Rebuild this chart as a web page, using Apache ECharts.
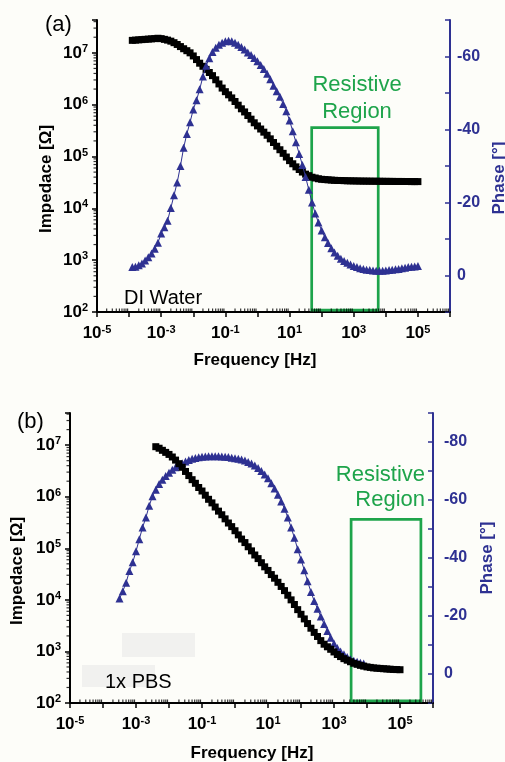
<!DOCTYPE html>
<html><head><meta charset="utf-8">
<script src="https://cdn.jsdelivr.net/npm/echarts@6/dist/echarts.min.js"></script>
<style>html,body{margin:0;padding:0;background:#fdfdf9}#c{width:505px;height:762px}</style>
</head><body><div id="c"></div>
<script>
// ---------- DATA ----------
// Panel (a) DI Water: frequency [Hz], |Z| [ohm], phase [deg]
const freqA = [1.26e-4,1.58e-4,2e-4,2.51e-4,3.16e-4,3.98e-4,5.01e-4,6.31e-4,7.94e-4,
 1e-3,1.26e-3,1.58e-3,2e-3,2.51e-3,3.16e-3,3.98e-3,5.01e-3,6.31e-3,7.94e-3,
 1e-2,1.26e-2,1.58e-2,2e-2,2.51e-2,3.16e-2,3.98e-2,5.01e-2,6.31e-2,7.94e-2,
 1e-1,1.26e-1,1.58e-1,2e-1,2.51e-1,3.16e-1,3.98e-1,5.01e-1,6.31e-1,7.94e-1,
 1,1.26,1.58,2,2.51,3.16,3.98,5.01,6.31,7.94,
 10,12.6,15.8,20,25.1,31.6,39.8,50.1,63.1,79.4,
 100,126,158,200,251,316,398,501,631,794,
 1e3,1.26e3,1.58e3,2e3,2.51e3,3.16e3,3.98e3,5.01e3,6.31e3,7.94e3,
 1e4,1.26e4,1.58e4,2e4,2.51e4,3.16e4,3.98e4,5.01e4,6.31e4,7.94e4,
 1e5];
const impA = [1.74e7,1.76e7,1.78e7,1.80e7,1.82e7,1.84e7,1.86e7,1.88e7,1.91e7,
 1.88e7,1.82e7,1.76e7,1.68e7,1.57e7,1.45e7,1.32e7,1.20e7,1.10e7,1.0e7,
 8.71e6,7.41e6,6.31e6,5.50e6,4.79e6,4.17e6,3.63e6,3.02e6,2.51e6,2.09e6,
 1.78e6,1.55e6,1.35e6,1.15e6,9.77e5,8.32e5,7.24e5,6.17e5,5.25e5,4.47e5,
 3.89e5,3.39e5,2.95e5,2.57e5,2.19e5,1.86e5,1.58e5,1.35e5,1.15e5,9.77e4,
 8.32e4,7.24e4,6.31e4,5.62e4,5.01e4,4.57e4,4.27e4,3.98e4,3.85e4,3.72e4,
 3.63e4,3.59e4,3.55e4,3.51e4,3.47e4,3.45e4,3.44e4,3.42e4,3.40e4,3.39e4,
 3.38e4,3.37e4,3.36e4,3.35e4,3.35e4,3.34e4,3.34e4,3.33e4,3.33e4,3.32e4,
 3.32e4,3.31e4,3.31e4,3.30e4,3.30e4,3.30e4,3.29e4,3.29e4,3.28e4,3.28e4,
 3.28e4];
const phaseA = [-2.3,-2.4,-2.8,-3.3,-4.1,-5.0,-6.0,-7.3,-9.0,
 -11.5,-13.2,-15.0,-18.5,-22.0,-25.5,-30.0,-35.0,-38.8,-42.0,
 -45.5,-48.0,-51.0,-54.5,-57.5,-59.5,-61.2,-62.4,-63.2,-63.8,
 -64.2,-64.3,-64.2,-63.8,-63.2,-62.6,-61.9,-61.1,-60.4,-59.6,
 -58.7,-57.7,-56.6,-55.3,-53.8,-52.0,-50.5,-49.0,-47.0,-45.0,
 -42.5,-39.5,-36.5,-33.3,-30.3,-27.0,-23.5,-20.0,-17.0,-14.5,
 -12.3,-10.5,-8.9,-7.5,-6.3,-5.4,-4.6,-4.0,-3.5,-3.0,
 -2.6,-2.3,-2.0,-1.8,-1.6,-1.5,-1.4,-1.3,-1.3,-1.3,
 -1.4,-1.5,-1.6,-1.7,-1.8,-2.0,-2.1,-2.3,-2.4,-2.5,
 -2.6];

// Panel (b) 1x PBS
const freqBImp = [3.98e-3,5.01e-3,6.31e-3,7.94e-3,
 1e-2,1.26e-2,1.58e-2,2e-2,2.51e-2,3.16e-2,3.98e-2,5.01e-2,6.31e-2,7.94e-2,
 1e-1,1.26e-1,1.58e-1,2e-1,2.51e-1,3.16e-1,3.98e-1,5.01e-1,6.31e-1,7.94e-1,
 1,1.26,1.58,2,2.51,3.16,3.98,5.01,6.31,7.94,
 10,12.6,15.8,20,25.1,31.6,39.8,50.1,63.1,79.4,
 100,126,158,200,251,316,398,501,631,794,
 1e3,1.26e3,1.58e3,2e3,2.51e3,3.16e3,3.98e3,5.01e3,6.31e3,7.94e3,
 1e4,1.26e4,1.58e4,2e4,2.51e4,3.16e4,3.98e4,5.01e4,6.31e4,7.94e4,
 1e5];
const impB = [9.33e6,8.71e6,7.94e6,7.24e6,
 6.61e6,5.89e6,5.13e6,4.37e6,3.72e6,3.09e6,2.57e6,2.14e6,1.82e6,1.51e6,
 1.29e6,1.07e6,8.91e5,7.59e5,6.31e5,5.25e5,4.47e5,3.72e5,3.09e5,2.63e5,
 2.19e5,1.82e5,1.51e5,1.29e5,1.07e5,8.91e4,7.41e4,6.31e4,5.25e4,4.37e4,
 3.72e4,3.09e4,2.63e4,2.19e4,1.82e4,1.51e4,1.23e4,1.0e4,8.13e3,6.46e3,
 5.25e3,4.27e3,3.47e3,2.82e3,2.34e3,1.95e3,1.62e3,1.38e3,1.23e3,1.10e3,
 977,871,794,724,676,631,589,562,537,519,
 501,490,479,473,468,462,457,452,447,445,
 442];
const freqBPh = [3.16e-4,3.98e-4,5.01e-4,6.31e-4,7.94e-4,
 1e-3,1.26e-3,1.58e-3,2e-3,2.51e-3,3.16e-3,3.98e-3,5.01e-3,6.31e-3,7.94e-3,
 1e-2,1.26e-2,1.58e-2,2e-2,2.51e-2,3.16e-2,3.98e-2,5.01e-2,6.31e-2,7.94e-2,
 1e-1,1.26e-1,1.58e-1,2e-1,2.51e-1,3.16e-1,3.98e-1,5.01e-1,6.31e-1,7.94e-1,
 1,1.26,1.58,2,2.51,3.16,3.98,5.01,6.31,7.94,
 10,12.6,15.8,20,25.1,31.6,39.8,50.1,63.1,79.4,
 100,126,158,200,251,316,398,501,631,794,
 1e3,1.26e3,1.58e3,2e3,2.51e3,3.16e3,3.98e3,5.01e3,6.31e3,7.94e3];
const phaseB = [-26,-28.5,-31.5,-35.5,-38.5,
 -42.3,-46.5,-50.5,-54,-58,-61.3,-63.5,-65.5,-67,-68.3,
 -69.4,-70.4,-71.3,-72.0,-72.7,-73.3,-73.8,-74.2,-74.5,-74.7,
 -74.9,-75.0,-75.1,-75.1,-75.1,-75.1,-75.0,-74.9,-74.8,-74.6,
 -74.4,-74.2,-74.0,-73.6,-73.1,-72.6,-71.9,-71.0,-70.0,-68.8,
 -67.5,-65.8,-64.0,-61.8,-59.5,-57,-54,-50.5,-47,-43,
 -39.5,-35.8,-32,-28.3,-25.2,-22.5,-19.8,-17.2,-14.8,-12.5,
 -10.5,-9.0,-7.8,-6.8,-5.9,-5.1,-4.6,-4.2,-3.9,-3.6];

// Resistive region boxes: [fLow, fHigh, phaseTop, phaseBottom]
const boxA = [49, 5800, -40.5, 9.5];
const boxB = [3300, 4.3e5, -53.3, 9.3];

// Axis ranges
const freqRange = [1e-5, 1e6];
const impRangeA = [100, 4.3e7];
const impRangeB = [100, 4.2e7];
const phaseRangeA = [-70, 10];
const phaseRangeB = [-90, 10];
const minorMant = [2,3,4,5,6,7,8,9];

// ---------- STYLE ----------
const FONT = "'Liberation Sans', Arial, Helvetica, sans-serif";
const BLUE = '#2e3192';
const GREEN = '#1ea44b';

function logLabel(isX) {
  return function (v) {
    const e = Math.log10(v), r = Math.round(e);
    if (Math.abs(e - r) > 1e-6) return '';
    if (isX && r % 2 === 0) return '';
    return '{b|10}{s|' + r + '}';
  };
}
const rich = {
  b: {fontSize: 17, fontWeight: 'bold', fontFamily: FONT, color: '#000', lineHeight: 19},
  s: {fontSize: 11, fontWeight: 'bold', fontFamily: FONT, color: '#000', verticalAlign: 'top', lineHeight: 10}
};

function minorTicksX(range, yBase) {
  const out = [];
  for (let k = Math.round(Math.log10(range[0])); k < Math.round(Math.log10(range[1])); k++)
    minorMant.forEach(m => out.push([m * Math.pow(10, k), yBase]));
  return out;
}
function minorTicksY(range, xBase) {
  const out = [];
  for (let k = Math.round(Math.log10(range[0])); k <= 8; k++)
    minorMant.forEach(m => { const v = m * Math.pow(10, k); if (v < range[1]) out.push([xBase, v]); });
  return out;
}

function makeXAxis(gi) {
  return {
    type: 'log', logBase: 10, gridIndex: gi, min: freqRange[0], max: freqRange[1], interval: 1,
    axisLine: {show: true, onZero: false, lineStyle: {color: '#000', width: 2}},
    axisTick: {show: true, inside: false, length: 5, lineStyle: {color: '#000', width: 1.5}},
    axisLabel: {formatter: logLabel(true), rich: rich, margin: 12},
    splitLine: {show: false}, minorTick: {show: false}
  };
}
function makeImpAxis(gi, range) {
  return {
    type: 'log', logBase: 10, gridIndex: gi, position: 'left', min: range[0], max: range[1], interval: 1,
    axisLine: {show: true, onZero: false, lineStyle: {color: '#000', width: 2}},
    axisTick: {show: true, inside: false, length: 5, lineStyle: {color: '#000', width: 1.5}},
    axisLabel: {formatter: logLabel(false), rich: rich, margin: 9},
    splitLine: {show: false}
  };
}
function makePhaseAxis(gi, range, margin) {
  return {
    type: 'value', gridIndex: gi, position: 'right', inverse: true, min: range[0], max: range[1], interval: 10,
    axisLine: {show: true, onZero: false, lineStyle: {color: BLUE, width: 2}},
    axisTick: {show: true, inside: true, length: 5, lineStyle: {color: BLUE, width: 1.5}},
    axisLabel: {formatter: v => (v % 20 === 0 ? String(v) : ''), color: BLUE, fontSize: 16, fontWeight: 'bold', fontFamily: FONT, margin: margin},
    splitLine: {show: false}
  };
}

function pairs(xs, ys) { return xs.map((x, i) => [x, ys[i]]); }

function impSeries(xi, yi, xs, ys, z) {
  return {type: 'line', xAxisIndex: xi, yAxisIndex: yi, data: pairs(xs, ys), symbol: 'rect', symbolSize: 7,
    showAllSymbol: true, itemStyle: {color: '#000'}, lineStyle: {color: '#000', width: 1.5}, z: z, silent: true};
}
function phaseSeries(xi, yi, xs, ys, box, z) {
  return {type: 'line', xAxisIndex: xi, yAxisIndex: yi, data: pairs(xs, ys), symbol: 'triangle', symbolSize: 8,
    showAllSymbol: true, itemStyle: {color: BLUE}, lineStyle: {color: BLUE, width: 1}, z: z, silent: true,
    markArea: {silent: true, itemStyle: {color: 'rgba(0,0,0,0)', borderColor: GREEN, borderWidth: 2.7},
      label: {show: false},
      data: [[{coord: [box[0], box[2]]}, {coord: [box[1], box[3]]}]]}};
}
// minor log ticks drawn as tiny bar-shaped scatter symbols placed by the axes' own scales
function minorXSeries(xi, yi, data) {
  return {type: 'scatter', xAxisIndex: xi, yAxisIndex: yi, data: data, clip: false, silent: true, z: 5,
    symbol: 'rect', symbolSize: [1.2, 3.5], symbolOffset: [0, -1.75], itemStyle: {color: '#000'}};
}
function minorYSeries(xi, yi, data) {
  return {type: 'scatter', xAxisIndex: xi, yAxisIndex: yi, data: data, clip: false, silent: true, z: 5,
    symbol: 'rect', symbolSize: [3.5, 1.2], symbolOffset: [-1.75, 0], itemStyle: {color: '#000'}};
}

function txt(text, x, y, opt) {
  return Object.assign({type: 'text', x: x, y: y, z: 100, silent: true,
    style: Object.assign({text: text, fontFamily: FONT, fontSize: 17, fontWeight: 'bold', fill: '#000',
      align: 'center', verticalAlign: 'middle'}, opt.style || {})}, opt.el || {});
}

const chart = echarts.init(document.getElementById('c'), null, {renderer: 'canvas'});
chart.setOption({
  backgroundColor: '#fdfdf9',
  animation: false,
  grid: [
    {left: 97, right: 55, top: 20, bottom: 450},
    {left: 70, right: 72, top: 413, bottom: 59}
  ],
  xAxis: [makeXAxis(0), makeXAxis(1)],
  yAxis: [makeImpAxis(0, impRangeA), makePhaseAxis(0, phaseRangeA, 7),
          makeImpAxis(1, impRangeB), makePhaseAxis(1, phaseRangeB, 11)],
  series: [
    impSeries(0, 0, freqA, impA, 3),
    phaseSeries(0, 1, freqA, phaseA, boxA, 4),
    phaseSeries(1, 3, freqBPh, phaseB, boxB, 3),
    impSeries(1, 2, freqBImp, impB, 4),
    minorXSeries(0, 0, minorTicksX(freqRange, impRangeA[0])),
    minorYSeries(0, 0, minorTicksY(impRangeA, freqRange[0])),
    minorXSeries(1, 2, minorTicksX(freqRange, impRangeB[0])),
    minorYSeries(1, 2, minorTicksY(impRangeB, freqRange[0]))
  ],
  graphic: [
    {type: 'rect', shape: {x: 122, y: 633, width: 73, height: 24}, style: {fill: '#f1f1ef'}, z: 1, silent: true},
    {type: 'rect', shape: {x: 82, y: 665, width: 73, height: 22}, style: {fill: '#f1f1ef'}, z: 1, silent: true},
    txt('(a)', 45, 25, {style: {fontSize: 22, fontWeight: 'normal', align: 'left'}}),
    txt('DI Water', 124, 298, {style: {fontSize: 20, fontWeight: 'normal', align: 'left'}}),
    txt('Resistive', 357, 85, {style: {fontSize: 22, fontWeight: 'normal', fill: GREEN}}),
    txt('Region', 357, 112, {style: {fontSize: 22, fontWeight: 'normal', fill: GREEN}}),
    txt('Frequency [Hz]', 255, 360, {}),
    txt('Impedace [\u03A9]', 46, 179, {el: {rotation: Math.PI / 2}}),
    txt('Phase [\u00B0]', 499, 178, {el: {rotation: Math.PI / 2}, style: {fill: BLUE}}),
    txt('(b)', 17, 422, {style: {fontSize: 22, fontWeight: 'normal', align: 'left'}}),
    txt('1x PBS', 105, 682, {style: {fontSize: 20, fontWeight: 'normal', align: 'left'}}),
    txt('Resistive', 425, 475, {style: {fontSize: 22, fontWeight: 'normal', fill: GREEN, align: 'right'}}),
    txt('Region', 425, 500, {style: {fontSize: 22, fontWeight: 'normal', fill: GREEN, align: 'right'}}),
    txt('Frequency [Hz]', 252, 753, {}),
    txt('Impedace [\u03A9]', 17, 571, {el: {rotation: Math.PI / 2}}),
    txt('Phase [\u00B0]', 487, 558, {el: {rotation: Math.PI / 2}, style: {fill: BLUE}})
  ]
});
</script>
</body></html>
